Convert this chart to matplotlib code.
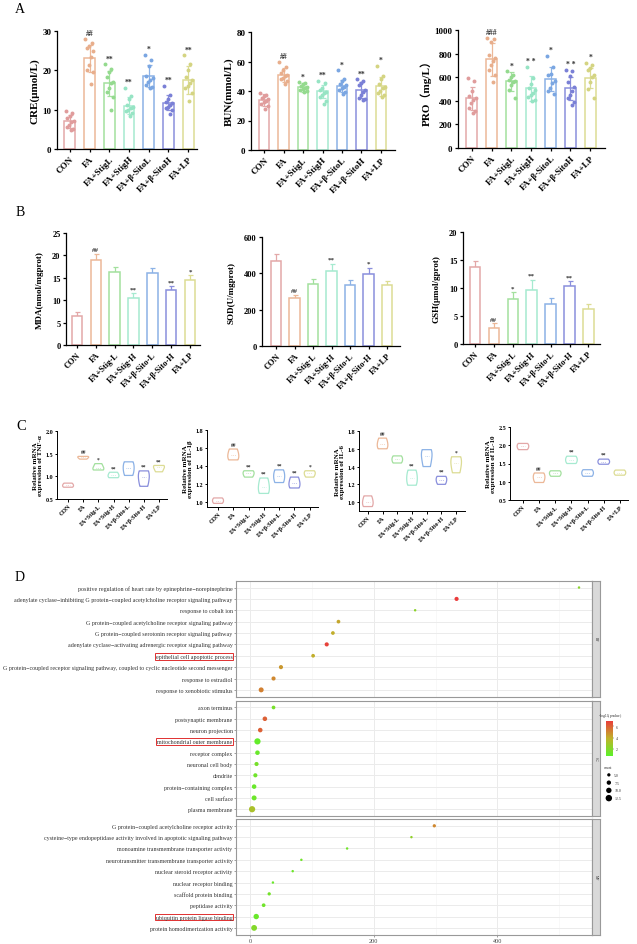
import numpy as np
import matplotlib
matplotlib.use("Agg")
import matplotlib.pyplot as plt
from matplotlib.colors import LinearSegmentedColormap, Normalize
from matplotlib.cm import ScalarMappable

plt.rcParams["font.family"] = ["Liberation Serif", "DejaVu Serif", "Noto Sans CJK SC"]
plt.rcParams["axes.unicode_minus"] = False

W, H = 637.0, 945.0


def box(l, t, r, b):
    return [l / W, 1 - b / H, (r - l) / W, (b - t) / H]


group_colors = ["#e3a8a8", "#ecb898", "#a3e09e", "#a6ead0", "#8cb2e6", "#8a8fdc", "#dcdc94"]
dot_colors = ["#e09c9c", "#e8ae8c", "#94da8e", "#96e4c4", "#7aa6e2", "#7a80d6", "#d4d482"]
groups_a = ["CON", "FA", "FA+StigL", "FA+StigH", "FA+β-SitoL", "FA+β-SitoH", "FA+LP"]
groups_bc = ["CON", "FA", "FA+Stig-L", "FA+Stig-H", "FA+β-Sito-L", "FA+β-Sito-H", "FA+LP"]

# ---- panel A : bars + points ----
cre_mean = [7.0, 23.1, 16.7, 11.0, 18.6, 11.8, 17.5]
cre_sd = [1.6, 3.4, 3.2, 2.2, 2.8, 2.0, 3.6]
cre_pts = [[9.6, 9.2, 8.4, 7.9, 7.2, 6.8, 6.1, 5.6, 5.0, 4.8],
           [27.9, 27.0, 26.3, 25.8, 25.0, 23.5, 21.4, 20.2, 19.6, 16.4],
           [21.5, 20.3, 19.5, 18.3, 17.0, 16.7, 15.5, 14.5, 13.2, 10.0],
           [15.5, 13.5, 12.8, 11.2, 10.8, 10.4, 10.0, 9.6, 9.2, 8.5],
           [24.0, 22.7, 21.0, 18.5, 18.0, 17.5, 17.0, 16.3, 15.8, 15.5],
           [16.0, 13.8, 12.6, 12.0, 11.6, 11.2, 10.8, 10.3, 9.8, 9.0],
           [23.8, 21.5, 20.0, 18.3, 17.5, 16.8, 16.0, 15.5, 14.2, 12.2]]
cre_sig = ["", "##", "**", "**", "*", "**", "**"]

bun_mean = [34.1, 50.9, 42.5, 39.8, 43.6, 40.9, 43.2]
bun_sd = [4.0, 5.0, 3.0, 4.5, 4.0, 5.5, 6.5]
bun_pts = [[38.5, 37.5, 36.5, 35.5, 34.5, 33.5, 32.5, 31.0, 29.5, 28.0],
           [60.0, 56.0, 54.5, 52.5, 51.0, 50.0, 49.0, 48.0, 46.5, 44.5],
           [46.0, 45.5, 44.5, 43.5, 42.5, 42.0, 41.5, 40.5, 40.0, 39.0],
           [47.0, 45.5, 42.0, 40.5, 39.5, 38.5, 37.5, 36.0, 33.0, 31.0],
           [54.0, 48.0, 46.5, 45.0, 44.0, 43.0, 42.0, 40.5, 39.0, 38.0],
           [48.0, 47.0, 45.5, 44.0, 41.0, 39.0, 37.0, 35.5, 34.5, 34.0],
           [57.0, 50.0, 48.0, 45.0, 43.0, 42.0, 40.0, 38.5, 37.0, 36.0]]
bun_sig = ["", "##", "*", "**", "*", "**", "*"]

pro_mean = [421, 751, 565, 506, 585, 506, 596]
pro_sd = [100, 140, 80, 105, 105, 95, 85]
pro_pts = [[590, 570, 480, 440, 420, 410, 380, 340, 310, 300],
           [930, 920, 900, 790, 760, 740, 700, 660, 620, 560],
           [650, 620, 600, 580, 570, 560, 530, 490, 420],
           [690, 590, 540, 510, 490, 470, 450, 430, 410, 400],
           [780, 690, 630, 620, 570, 550, 510, 480, 460],
           [660, 650, 610, 560, 520, 480, 450, 420, 390, 365],
           [720, 700, 680, 660, 620, 600, 560, 500, 420]]
pro_sig = ["", "###", "*", "* *", "*", "* *", "*"]

# ---- panel B : bars with upper SD ----
mda_mean = [6.4, 18.9, 16.4, 10.6, 16.0, 12.2, 14.4]
mda_sd = [0.9, 1.5, 1.0, 0.9, 1.1, 1.0, 1.2]
mda_sig = ["", "##", "", "**", "", "**", "*"]

sod_mean = [467, 262, 340, 415, 338, 395, 335]
sod_sd = [40, 18, 28, 38, 25, 36, 22]
sod_sig = ["", "##", "", "**", "", "*", ""]

gsh_mean = [13.7, 2.9, 8.1, 9.7, 7.1, 10.3, 6.3]
gsh_sd = [1.2, 0.8, 1.2, 1.8, 1.1, 0.9, 0.8]
gsh_sig = ["", "##", "*", "**", "", "**", ""]

# ---- panel C : violins ----
tnf_vals = [[0.76, 0.80, 0.85], [1.38, 1.42, 1.44], [1.14, 1.18, 1.28], [0.97, 1.02, 1.09],
            [1.02, 1.18, 1.32], [0.78, 0.98, 1.12], [1.10, 1.20, 1.24]]
tnf_sig = ["", "##", "*", "**", "", "**", "**"]
il1b_vals = [[0.99, 1.02, 1.05], [1.47, 1.52, 1.59], [1.28, 1.32, 1.35], [1.10, 1.17, 1.27],
             [1.22, 1.29, 1.36], [1.16, 1.21, 1.28], [1.28, 1.32, 1.35]]
il1b_sig = ["", "##", "**", "**", "**", "**", "*"]
il6_vals = [[0.95, 1.00, 1.07], [1.60, 1.65, 1.72], [1.44, 1.48, 1.52], [1.19, 1.27, 1.36],
            [1.40, 1.52, 1.59], [1.20, 1.25, 1.29], [1.33, 1.44, 1.51]]
il6_sig = ["", "##", "", "**", "", "**", "*"]
il10_vals = [[1.88, 1.97, 2.05], [0.98, 1.12, 1.24], [1.15, 1.23, 1.30], [1.50, 1.60, 1.70],
             [1.15, 1.24, 1.33], [1.48, 1.55, 1.62], [1.18, 1.25, 1.32]]
il10_sig = ["", "##", "", "**", "", "**", ""]

# ---- panel D : GO enrichment ----
bp_terms = ["positive regulation of heart rate by epinephrine\u2212norepinephrine",
            "adenylate cyclase\u2212inhibiting G protein\u2212coupled acetylcholine receptor signaling pathway",
            "response to cobalt ion",
            "G protein\u2212coupled acetylcholine receptor signaling pathway",
            "G protein\u2212coupled serotonin receptor signaling pathway",
            "adenylate cyclase\u2212activating adrenergic receptor signaling pathway",
            "epithelial cell apoptotic process",
            "G protein\u2212coupled receptor signaling pathway, coupled to cyclic nucleotide second messenger",
            "response to estradiol",
            "response to xenobiotic stimulus"]
bp_x = [532, 334, 267, 143, 134, 124, 102, 50, 38, 18]
bp_logp = [2.2, 7.0, 2.3, 4.2, 4.0, 6.8, 4.0, 4.6, 5.0, 5.2]
bp_count = [3, 7, 3, 6, 6, 7, 6, 7, 7, 9]

cc_terms = ["axon terminus", "postsynaptic membrane", "neuron projection",
            "mitochondrial outer membrane", "receptor complex", "neuronal cell body",
            "dendrite", "protein\u2212containing complex", "cell surface", "plasma membrane"]
cc_x = [38, 24, 16.5, 12, 12, 10.5, 8.6, 6.6, 6.6, 3.3]
cc_logp = [1.6, 6.0, 6.0, 1.0, 1.2, 1.6, 1.4, 1.2, 1.3, 3.2]
cc_count = [6, 8, 8, 12, 8, 7, 7, 8, 9, 12]

mf_terms = ["G protein\u2212coupled acetylcholine receptor activity",
            "cysteine\u2212type endopeptidase activity involved in apoptotic signaling pathway",
            "monoamine transmembrane transporter activity",
            "neurotransmitter transmembrane transporter activity",
            "nuclear steroid receptor activity", "nuclear receptor binding",
            "scaffold protein binding", "peptidase activity",
            "ubiquitin protein ligase binding", "protein homodimerization activity"]
mf_x = [298, 261, 157, 83, 69, 37, 31, 22, 10, 6.6]
mf_logp = [5.0, 2.4, 1.4, 1.4, 1.3, 1.2, 1.5, 1.4, 1.2, 2.0]
mf_count = [5, 3, 3, 3, 3, 3, 5, 6, 10, 11]

count_levels = [5.0, 7.5, 10.0, 12.5]

fig = plt.figure(figsize=(6.37, 9.45), dpi=100)


def gp_style(ax, labels, xlim, lab_size=7, tick_size=6.5):
    for s in ["top", "right"]:
        ax.spines[s].set_visible(False)
    for s in ["left", "bottom"]:
        ax.spines[s].set_linewidth(0.9)
    ax.set_xlim(*xlim)
    ax.set_xticks(np.arange(len(labels)))
    ax.set_xticklabels(labels, rotation=45, ha="right", rotation_mode="anchor",
                       fontsize=lab_size, fontweight="bold")
    ax.tick_params(length=2.5, width=0.9, pad=1.5, labelsize=tick_size)
    for t in ax.get_yticklabels():
        t.set_fontweight("bold")


def bar_points(rect, means, sds, pts, sig, ylim, yticks, ylabel, xlim):
    ax = fig.add_axes(box(*rect))
    x = np.arange(len(means))
    ax.bar(x, means, width=0.55, color="white", edgecolor=group_colors, linewidth=1.1, zorder=2)
    for i in x:
        ax.errorbar(i, means[i], yerr=sds[i], color=group_colors[i], capsize=1.8,
                    lw=0.9, capthick=0.9, zorder=3)
        v = np.sort(pts[i])[::-1]
        off = ((np.arange(len(v)) * 0.37) % 0.5 - 0.25) * 0.85
        ax.scatter(i + off, v, s=8, color=dot_colors[i], zorder=4, linewidths=0)
        if sig[i]:
            ax.text(i, max(pts[i]) + ylim[1] * 0.015, sig[i], ha="center", va="bottom",
                    fontsize=5.5, fontweight="bold", color="#333333")
    ax.set_ylim(*ylim)
    ax.set_yticks(yticks)
    ax.set_ylabel(ylabel, fontsize=8, fontweight="bold", labelpad=2)
    gp_style(ax, groups_a, xlim)
    return ax


def bar_upper(rect, means, sds, sig, ylim, yticks, ylabel, xlim):
    ax = fig.add_axes(box(*rect))
    x = np.arange(len(means))
    ax.bar(x, means, width=0.55, color="white", edgecolor=group_colors, linewidth=1.1, zorder=2)
    for i in x:
        ax.errorbar(i, means[i], yerr=[[0], [sds[i]]], color=group_colors[i], capsize=1.8,
                    lw=0.9, capthick=0.9, zorder=1)
        if sig[i]:
            ax.text(i, means[i] + sds[i] + ylim[1] * 0.015, sig[i], ha="center", va="bottom",
                    fontsize=5, fontweight="bold", color="#333333")
    ax.set_ylim(*ylim)
    ax.set_yticks(yticks)
    ax.set_ylabel(ylabel, fontsize=6.5, fontweight="bold", labelpad=6)
    gp_style(ax, groups_bc, xlim, lab_size=6.2, tick_size=6)
    return ax


def violins(rect, vals, sig, ylim, yticks, ylabel, xlim):
    ax = fig.add_axes(box(*rect))
    x = np.arange(len(vals))
    parts = ax.violinplot(vals, positions=x, widths=0.72, showextrema=False)
    for i, b in enumerate(parts["bodies"]):
        b.set_facecolor("none")
        b.set_edgecolor(group_colors[i])
        b.set_linewidth(0.9)
        b.set_alpha(1)
        med = np.median(vals[i])
        ax.hlines(med, i - 0.15, i + 0.15, colors=group_colors[i], linestyles=":", lw=0.5)
        if sig[i]:
            ax.text(i, max(vals[i]) + (ylim[1] - ylim[0]) * 0.03, sig[i], ha="center",
                    va="bottom", fontsize=4, fontweight="bold", color="#333333")
    ax.set_ylim(*ylim)
    ax.set_yticks(yticks)
    ax.set_yticklabels(["%.1f" % t for t in yticks])
    ax.set_ylabel(ylabel, fontsize=5, fontweight="bold", labelpad=2, linespacing=1.0)
    gp_style(ax, groups_bc, xlim, lab_size=4.6, tick_size=4.4)
    for s in ["left", "bottom"]:
        ax.spines[s].set_linewidth(0.7)
    ax.tick_params(length=1.8, width=0.7, pad=1)
    return ax


# panel letters
fig.text(15 / W, 1 - 3 / H, "A", fontsize=10, va="top")
fig.text(16 / W, 1 - 206 / H, "B", fontsize=10, va="top")
fig.text(16 / W, 1 - 420 / H, "C", fontsize=10.5, va="top")
fig.text(15 / W, 1 - 571 / H, "D", fontsize=10, va="top")

# A
bar_points((57, 32, 197, 150), cre_mean, cre_sd, cre_pts, cre_sig, (0, 30), [0, 10, 20, 30],
           "CRE(μmol/L)", (-0.65, 6.45))
bar_points((251, 33, 395, 151), bun_mean, bun_sd, bun_pts, bun_sig, (0, 80), [0, 20, 40, 60, 80],
           "BUN(mmol/L)", (-0.67, 6.72))
bar_points((458, 31, 605, 149), pro_mean, pro_sd, pro_pts, pro_sig, (0, 1000),
           [0, 200, 400, 600, 800, 1000], "PRO（mg/L）", (-0.7, 6.75))

# B
bar_upper((66, 234, 200, 346), mda_mean, mda_sd, mda_sig, (0, 25), [0, 5, 10, 15, 20, 25],
          "MDA(nmol/mgprot)", (-0.58, 6.53))
bar_upper((262, 238, 400, 347), sod_mean, sod_sd, sod_sig, (0, 600), [0, 200, 400, 600],
          "SOD(U/mgprot)", (-0.76, 6.7))
bar_upper((463, 233, 600, 345), gsh_mean, gsh_sd, gsh_sig, (0, 20), [0, 5, 10, 15, 20],
          "GSH(μmol/gprot)", (-0.63, 6.61))

# C
violins((57, 432, 167, 500), tnf_vals, tnf_sig, (0.5, 2.0), [0.5, 1.0, 1.5, 2.0],
        "Relative mRNA\nexpression of TNF-α", (-0.73, 6.53))
violins((207, 431, 318, 508), il1b_vals, il1b_sig, (0.95, 1.8), [1.0, 1.2, 1.4, 1.6, 1.8],
        "Relative mRNA\nexpression of IL-1β", (-0.72, 6.54))
violins((359, 432, 465, 512), il6_vals, il6_sig, (0.9, 1.8), [1.0, 1.2, 1.4, 1.6, 1.8],
        "Relative mRNA\nexpression of IL-6", (-0.6, 6.6))
violins((510, 428, 628, 501), il10_vals, il10_sig, (0.5, 2.5), [0.5, 1.0, 1.5, 2.0, 2.5],
        "Relative mRNA\nexpression of IL-10", (-0.8, 6.5))

# D
cmap = LinearSegmentedColormap.from_list("gyr", ["#5df02a", "#c0b22a", "#ea3b3b"])
norm = Normalize(0.8, 7.0)


def dot_size(c):
    return (0.72 * (1.2 + 0.42 * np.asarray(c, dtype=float))) ** 2


facets = [(bp_terms, bp_x, bp_logp, bp_count, "BP", 581.7, 697.7, 6),
          (cc_terms, cc_x, cc_logp, cc_count, "CC", 701.7, 817.0, 3),
          (mf_terms, mf_x, mf_logp, mf_count, "MF", 820.0, 935.7, 8)]

for k, (terms, xs, lp, cnt, tag, top, bot, hi) in enumerate(facets):
    ax = fig.add_axes(box(236, top, 592, bot))
    n = len(terms)
    rows = np.arange(n, 0, -1)
    ax.scatter(xs, rows, s=dot_size(cnt), c=lp, cmap=cmap, norm=norm, linewidths=0, zorder=3)
    ax.set_xlim(-22.7, 553)
    ax.set_ylim(0.4, n + 0.6)
    ax.set_yticks(rows)
    ax.set_yticklabels(terms, fontsize=4.3, color="#333333")
    ax.set_xticks([0, 200, 400])
    ax.set_xticks([100, 300, 500], minor=True)
    ax.grid(True, which="major", color="#ebebeb", lw=0.7)
    ax.grid(True, which="minor", axis="x", color="#f3f3f3", lw=0.4)
    ax.set_axisbelow(True)
    ax.tick_params(which="minor", length=0)
    ax.tick_params(which="major", length=1.5, width=0.4, color="#555555", pad=1)
    for s in ax.spines.values():
        s.set_color("#999999")
        s.set_linewidth(0.8)
    if k < 2:
        ax.tick_params(axis="x", labelbottom=False, length=0)
    else:
        ax.tick_params(axis="x", labelsize=4.5, labelcolor="#444444")
    lab = ax.get_yticklabels()[hi]
    lab.set_bbox(dict(boxstyle="square,pad=0.15", fc="none", ec="#e03030", lw=0.7))

    sax = fig.add_axes(box(592, top, 600, bot))
    sax.set_facecolor("#d9d9d9")
    sax.set_xticks([])
    sax.set_yticks([])
    for s in sax.spines.values():
        s.set_color("#999999")
        s.set_linewidth(0.8)
    sax.text(0.5, 0.5, tag, rotation=-90, ha="center", va="center", fontsize=2.8,
             color="#333333", transform=sax.transAxes)

# legend: colour bar
fig.text(598 / W, 1 - 716 / H, "-log$_{10}$(pvalue)", fontsize=2.8, color="#333333", va="center")
cax = fig.add_axes(box(606, 721.7, 613, 756.7))
cb = fig.colorbar(ScalarMappable(norm=norm, cmap=cmap), cax=cax, ticks=[2, 4, 6])
cb.outline.set_visible(False)
cb.ax.tick_params(labelsize=2.8, length=1, width=0.3, pad=1, colors="#333333")

# legend: count
fig.text(604 / W, 1 - 768 / H, "count", fontsize=2.8, color="#333333", va="center")
lax = fig.add_axes(box(604, 772, 630, 803))
lax.axis("off")
lev_y = np.arange(len(count_levels), 0, -1)
lax.scatter(np.zeros(len(count_levels)), lev_y, s=dot_size(count_levels), color="black", linewidths=0)
for yy, c in zip(lev_y, count_levels):
    lax.text(0.9, yy, "%.1f" % c, fontsize=2.8, va="center", color="#333333")
lax.set_xlim(-0.8, 3.5)
lax.set_ylim(0.5, len(count_levels) + 0.5)

fig.savefig("out.png", dpi=100)
